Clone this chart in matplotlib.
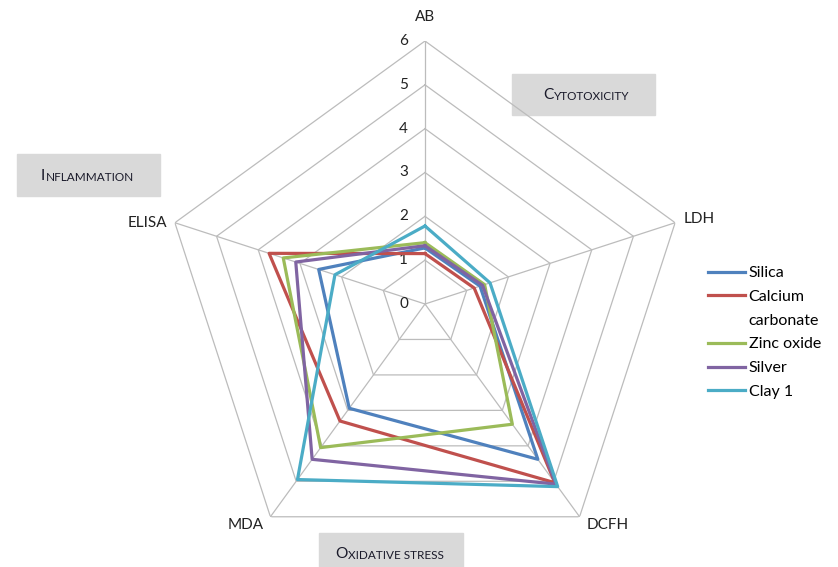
import numpy as np
import matplotlib
matplotlib.use('Agg')
import matplotlib.pyplot as plt
from matplotlib.patches import Rectangle
from matplotlib.lines import Line2D

plt.rcParams['font.family'] = ['Lato', 'DejaVu Sans']

categories = ['AB', 'LDH', 'DCFH', 'MDA', 'ELISA']
silica = [1.28, 1.32, 4.38, 2.94, 2.55]
calcium = [1.15, 1.18, 5.04, 3.30, 3.74]
zinc = [1.40, 1.43, 3.39, 4.05, 3.40]
silver = [1.33, 1.38, 5.08, 4.38, 3.10]
clay = [1.78, 1.56, 5.15, 4.95, 2.16]
series_names = ['Silica', 'Calcium carbonate', 'Zinc oxide', 'Silver', 'Clay 1']
colors = ['#4F81BD', '#C0504D', '#9BBB59', '#8064A2', '#4BACC6']
levels = [0, 1, 2, 3, 4, 5, 6]

W, H = 838, 567
fig = plt.figure(figsize=(W / 100, H / 100), dpi=100)

# polar axes centred on (425, 304) px with radius 263 px
cx, cy, R = 425, 304, 263
ax = fig.add_axes([(cx - R) / W, (H - cy - R) / H, 2 * R / W, 2 * R / H],
                  projection='polar')
ax.set_theta_zero_location('N')
ax.set_theta_direction(-1)
ax.set_ylim(0, 6)
ax.grid(False)
ax.set_xticks([])
ax.set_yticks([])
ax.spines['polar'].set_visible(False)
ax.patch.set_alpha(0)

theta = np.deg2rad(np.arange(len(categories)) * 72)
closed = np.append(theta, theta[0])

# pentagon grid and spokes
for lv in levels[1:]:
    ax.plot(closed, [lv] * len(closed), color='#bcbcbc', lw=0.9, zorder=1)
for t in theta:
    ax.plot([t, t], [0, 6], color='#bcbcbc', lw=0.9, zorder=1)

for lv in levels:
    ax.annotate(str(lv), xy=(0, lv), xytext=(-17, 0), textcoords='offset pixels',
                ha='right', va='center', fontsize=11, color='#222222')

offsets = [(0, 24, 'center', 'center'), (8, 4, 'left', 'center'),
           (7, -8, 'left', 'center'), (-7, -8, 'right', 'center'),
           (-8, 0, 'right', 'center')]
for t, name, (dx, dy, ha, va) in zip(theta, categories, offsets):
    ax.annotate(name, xy=(t, 6), xytext=(dx, dy), textcoords='offset pixels',
                ha=ha, va=va, fontsize=11, color='#222222')

handles = []
for vals, c in zip([silica, calcium, zinc, silver, clay], colors):
    ln, = ax.plot(closed, vals + vals[:1], color=c, lw=2.3, zorder=3)
    handles.append(ln)

# legend: long name wrapped, handle beside the first line only
leg_handles, leg_labels = [], []
for h, name in zip(handles, series_names):
    parts = name.split(' ', 1) if name == 'Calcium carbonate' else [name]
    leg_handles.append(h)
    leg_labels.append(parts[0])
    for p in parts[1:]:
        leg_handles.append(Line2D([], [], color='none'))
        leg_labels.append(p)

ax.legend(leg_handles, leg_labels, loc='upper left',
          bbox_to_anchor=(700 / W, 1 - 258 / H),
          bbox_transform=fig.transFigure, frameon=False, fontsize=11.5,
          handlelength=2.3, handletextpad=0.25, labelspacing=0.6,
          borderpad=0)


def px(x, y):
    return x / W, 1 - y / H


# grey group boxes with small-caps style titles
boxes = [(512, 74, 655, 115, 543, 99, 'C', 'YTOTOXICITY'),
         (17, 154, 160, 196, 41, 180, 'I', 'NFLAMMATION'),
         (319, 533, 463, 570, 335, 558, 'O', 'XIDATIVE STRESS')]
for x0, y0, x1, y1, tx, ty, first, rest in boxes:
    fig.add_artist(Rectangle(px(x0, y1), (x1 - x0) / W, (y1 - y0) / H,
                             transform=fig.transFigure, color='#d9d9d9', zorder=0))
    t1 = fig.text(*px(tx, ty), first, fontsize=11.2, va='baseline', color='#1a1a2a')
    ax.annotate(rest, xy=(1, 0), xycoords=t1, xytext=(0.5, 0.4),
                textcoords='offset pixels', ha='left', va='bottom',
                fontsize=8.5, color='#1a1a2a', annotation_clip=False)

plt.savefig('out.png', dpi=100)
